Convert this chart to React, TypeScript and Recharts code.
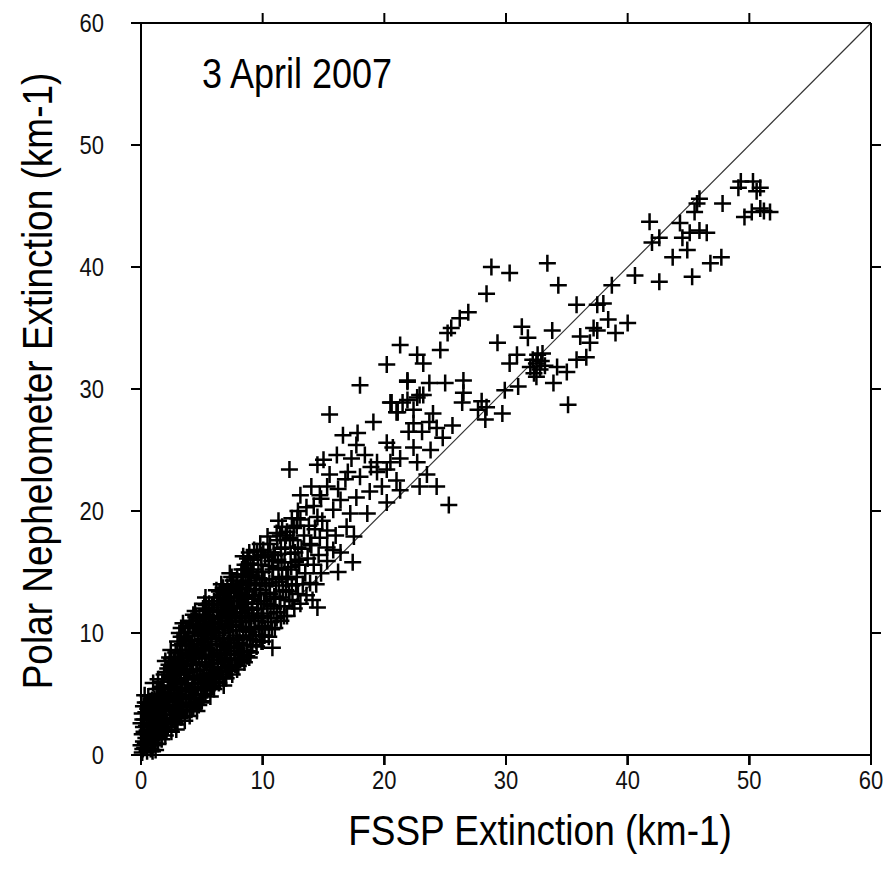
import React from 'react';
import { ScatterChart, Scatter, XAxis, YAxis, ReferenceLine, Label } from 'recharts';

// [FSSP extinction, Polar Nephelometer extinction] in km-1
const nearOrigin: number[][] = [
  [0.1, 0.2], [0.3, 0.6], [0.2, 1.1], [0.5, 0.3], [0.6, 0.9], [0.1, 1.7], [0.4, 1.4], [0.8, 0.5], [0.7, 1.6],
  [0.2, 2.3], [0.5, 2.0], [0.9, 1.2], [0.3, 2.9], [0.6, 2.6], [0.8, 2.1], [0.1, 3.4], [0.4, 3.5], [0.9, 2.9],
  [0.7, 3.3], [0.2, 4.0], [0.5, 4.3], [0.8, 3.9], [0.6, 4.8], [0.3, 4.9], [0.9, 4.5], [0.0, 0.8], [0.0, 2.6],
  [1.0, 0.8], [1.2, 1.4], [1.1, 2.1], [1.4, 0.9], [1.5, 1.8], [1.3, 2.7], [1.7, 1.3], [1.6, 2.4], [1.9, 1.9],
  [1.0, 3.2], [1.4, 3.4], [1.8, 2.9], [1.2, 3.9], [1.6, 4.1], [1.9, 3.6], [1.1, 4.6], [1.5, 4.8], [1.8, 4.4],
  [1.3, 5.4], [1.7, 5.6], [1.0, 5.9], [1.9, 5.1], [1.4, 6.2], [1.6, 3.0], [1.2, 0.4],
  [2.0, 1.6], [2.2, 2.3], [2.5, 1.9], [2.1, 3.0], [2.4, 3.3], [2.8, 2.6], [2.6, 3.9], [2.3, 4.4], [2.9, 3.5],
  [2.0, 5.0], [2.5, 4.9], [2.8, 4.4], [2.2, 5.7], [2.7, 5.6], [2.4, 6.3], [2.9, 6.0], [2.1, 6.8], [2.6, 6.9],
  [2.3, 7.4], [2.8, 7.2], [2.5, 7.9], [2.0, 7.7], [2.9, 2.1], [2.6, 2.9],
  [0.15, 0.5], [0.35, 1.0], [0.55, 1.7], [0.75, 2.4], [0.25, 1.9], [0.45, 2.4], [0.65, 3.0], [0.85, 3.5],
  [0.15, 2.9], [0.35, 4.3], [0.75, 4.2], [0.55, 3.8], [0.95, 0.3], [0.95, 2.0], [1.15, 1.0], [1.35, 1.8],
  [1.55, 2.9], [1.75, 3.3], [1.25, 3.0], [1.45, 4.1], [1.65, 4.6], [1.85, 5.5], [1.05, 4.2], [1.35, 5.0],
  [1.55, 5.4], [1.75, 6.0], [1.95, 2.5], [1.15, 2.6], [2.15, 2.6], [2.35, 3.8], [2.55, 3.0], [2.75, 3.9],
  [2.95, 4.8], [2.15, 4.6], [2.45, 5.4], [2.65, 6.2], [2.85, 6.6], [2.25, 6.2], [2.55, 7.2], [2.75, 8.0],
  [2.35, 8.0], [2.05, 4.1], [2.45, 8.6], [2.85, 8.4], [1.9, 6.6],
  [1.1, 1.6], [1.3, 4.4], [1.7, 2.2], [1.5, 3.7], [1.9, 4.7], [2.1, 2.0], [2.3, 5.1], [2.7, 3.3], [2.5, 6.5],
  [2.9, 5.3], [2.2, 7.1], [2.7, 7.6],
];

const lowRange: number[][] = [
  [3.0, 2.5], [3.3, 3.1], [3.6, 2.8], [3.1, 3.9], [3.5, 4.0], [3.8, 3.6], [3.2, 4.7], [3.7, 4.8], [3.4, 5.5],
  [3.9, 5.3], [3.0, 6.1], [3.6, 6.2], [3.3, 6.8], [3.8, 7.0], [3.1, 7.5], [3.5, 7.7], [3.9, 7.9], [3.2, 8.4],
  [3.7, 8.6], [3.4, 9.1], [3.9, 9.4], [3.0, 9.3], [3.6, 10.0], [3.3, 10.4],
  [4.0, 3.2], [4.3, 3.9], [4.6, 3.6], [4.1, 4.6], [4.5, 4.7], [4.9, 4.3], [4.2, 5.4], [4.7, 5.5], [4.4, 6.2],
  [4.9, 6.1], [4.0, 6.8], [4.6, 6.9], [4.3, 7.5], [4.8, 7.6], [4.1, 8.2], [4.5, 8.4], [4.9, 8.6], [4.2, 9.1],
  [4.7, 9.3], [4.4, 10.0], [4.9, 10.2], [4.0, 10.6], [4.6, 11.0], [4.3, 11.5], [4.8, 11.3],
  [5.0, 4.4], [5.3, 5.0], [5.7, 4.8], [5.1, 5.8], [5.5, 5.9], [5.9, 5.6], [5.2, 6.6], [5.7, 6.7], [5.4, 7.4],
  [5.9, 7.5], [5.0, 7.9], [5.6, 8.2], [5.3, 8.8], [5.8, 9.0], [5.1, 9.5], [5.5, 9.8], [5.9, 10.1], [5.2, 10.6],
  [5.7, 10.9], [5.4, 11.5], [5.9, 11.7], [5.1, 12.0], [5.6, 12.4], [5.3, 12.9],
  [3.15, 3.4], [3.45, 3.6], [3.75, 4.2], [3.05, 5.0], [3.35, 4.3], [3.65, 5.3], [3.95, 4.6], [3.25, 5.8],
  [3.55, 6.7], [3.85, 6.3], [3.15, 6.6], [3.45, 7.3], [3.75, 7.4], [3.05, 8.0], [3.35, 8.0], [3.65, 9.0],
  [3.95, 8.6], [3.25, 9.0], [3.55, 9.7], [3.85, 10.1], [3.15, 10.0], [3.45, 10.8],
  [4.15, 3.7], [4.45, 4.2], [4.75, 4.1], [4.05, 5.2], [4.35, 4.9], [4.65, 5.9], [4.95, 5.4], [4.25, 6.5],
  [4.55, 7.4], [4.85, 7.0], [4.15, 7.4], [4.45, 8.0], [4.75, 8.2], [4.05, 9.0], [4.35, 8.6], [4.65, 9.8],
  [4.95, 9.4], [4.25, 10.4], [4.55, 10.6], [4.85, 10.7], [4.15, 11.0], [4.45, 11.8],
  [5.15, 4.9], [5.45, 5.3], [5.75, 5.5], [5.05, 6.4], [5.35, 6.1], [5.65, 7.2], [5.95, 6.6], [5.25, 7.6],
  [5.55, 8.6], [5.85, 8.1], [5.15, 8.6], [5.45, 9.3], [5.75, 9.6], [5.05, 10.2], [5.35, 9.9], [5.65, 11.4],
  [5.95, 10.8], [5.25, 11.2], [5.55, 11.9], [5.85, 12.3], [5.35, 12.3],
  [3.2, 3.5], [3.4, 4.9], [3.8, 5.8], [3.1, 7.1], [3.6, 7.0], [3.9, 8.3], [3.3, 9.7], [3.7, 9.3], [4.1, 4.2],
  [4.4, 5.6], [4.8, 6.5], [4.2, 7.9], [4.6, 8.8], [4.9, 9.8], [4.3, 10.7], [4.7, 10.4], [4.5, 11.3],
  [5.2, 5.4], [5.6, 6.3], [5.9, 7.0], [5.3, 8.0], [5.7, 8.6], [5.2, 9.0], [5.8, 10.5], [5.4, 10.2], [5.6, 11.1],
  [5.2, 12.4],
];

const midRange: number[][] = [
  [6.0, 5.4], [6.4, 5.9], [6.8, 5.7], [6.1, 6.6], [6.6, 6.8], [6.3, 7.5], [6.9, 7.6], [6.0, 8.2], [6.5, 8.4],
  [6.2, 9.1], [6.8, 9.3], [6.4, 10.0], [6.9, 10.4], [6.1, 10.8], [6.6, 11.2], [6.3, 11.8], [6.8, 12.1],
  [6.0, 12.6], [6.5, 12.9], [6.2, 13.5], [6.9, 13.3], [6.6, 14.0],
  [7.0, 6.3], [7.5, 6.6], [7.9, 7.0], [7.2, 7.4], [7.7, 7.9], [7.4, 8.5], [7.9, 8.8], [7.1, 9.2], [7.6, 9.6],
  [7.3, 10.2], [7.8, 10.6], [7.0, 11.0], [7.5, 11.4], [7.2, 12.0], [7.9, 12.2], [7.4, 12.9], [7.7, 13.4],
  [7.1, 13.8], [7.6, 14.3], [7.3, 14.9], [7.9, 14.6],
  [8.0, 7.3], [8.5, 7.6], [8.9, 8.0], [8.2, 8.5], [8.7, 9.0], [8.4, 9.7], [8.9, 10.1], [8.1, 10.5], [8.6, 11.0],
  [8.3, 11.7], [8.8, 12.1], [8.0, 12.6], [8.5, 13.0], [8.2, 13.7], [8.9, 13.9], [8.6, 14.6], [8.3, 15.2],
  [8.8, 15.6], [8.4, 16.3], [8.9, 16.6],
  [9.0, 8.4], [9.5, 8.9], [9.9, 9.3], [9.2, 9.8], [9.7, 10.3], [9.4, 11.0], [9.9, 11.4], [9.1, 11.9], [9.6, 12.4],
  [9.3, 13.1], [9.8, 13.5], [9.0, 14.0], [9.5, 14.5], [9.2, 15.2], [9.9, 15.6], [9.6, 16.2], [9.3, 16.8],
  [9.8, 17.3], [9.0, 15.7],
  [6.15, 6.0], [6.45, 6.4], [6.75, 6.3], [6.05, 7.2], [6.35, 6.9], [6.65, 7.8], [6.95, 7.1], [6.25, 8.3],
  [6.55, 9.0], [6.85, 8.6], [6.15, 9.6], [6.45, 9.5], [6.75, 10.0], [6.05, 10.3], [6.35, 10.7], [6.65, 11.8],
  [6.95, 11.5], [6.25, 12.1], [6.55, 12.3], [6.85, 12.8], [6.45, 13.4], [6.75, 13.7],
  [7.15, 6.9], [7.45, 7.2], [7.75, 7.4], [7.05, 8.2], [7.35, 7.9], [7.65, 8.8], [7.95, 8.2], [7.25, 9.6],
  [7.55, 10.2], [7.85, 9.8], [7.15, 10.6], [7.45, 11.0], [7.75, 11.6], [7.05, 12.4], [7.35, 11.7], [7.65, 12.6],
  [7.95, 13.0], [7.25, 13.3], [7.55, 13.9], [7.85, 14.0], [7.45, 14.6],
  [8.15, 7.8], [8.45, 8.2], [8.75, 8.5], [8.05, 9.2], [8.35, 9.0], [8.65, 10.3], [8.95, 9.5], [8.25, 10.9],
  [8.55, 11.6], [8.85, 11.4], [8.15, 12.2], [8.45, 12.4], [8.75, 12.9], [8.05, 13.3], [8.35, 14.2], [8.65, 13.6],
  [8.95, 14.7], [8.25, 14.8], [8.55, 15.6], [8.75, 16.1],
  [9.15, 9.0], [9.45, 9.4], [9.75, 9.8], [9.05, 10.5], [9.35, 10.3], [9.65, 11.2], [9.95, 10.6], [9.25, 11.4],
  [9.55, 12.0], [9.85, 12.6], [9.15, 12.8], [9.45, 13.6], [9.75, 14.1], [9.05, 14.8], [9.35, 14.0], [9.65, 15.0],
  [9.95, 14.4], [9.25, 16.0], [9.55, 16.7], [9.85, 16.4],
  [6.2, 6.2], [6.6, 7.2], [6.3, 8.0], [6.9, 8.9], [6.2, 9.8], [6.7, 10.7], [6.4, 11.3], [6.9, 12.5], [6.3, 12.6],
  [6.7, 13.1], [7.3, 6.9], [7.7, 8.3], [7.2, 8.8], [7.9, 9.4], [7.4, 10.7], [7.8, 11.2], [7.2, 11.5], [7.6, 12.2],
  [7.9, 13.6], [7.4, 13.5], [8.3, 8.0], [8.7, 8.1], [8.4, 10.2], [8.9, 11.0], [8.2, 11.2], [8.6, 12.5],
  [8.3, 13.1], [8.8, 14.3], [8.4, 14.8], [8.7, 15.2],
];

const bandRange: number[][] = [
  [10.0, 9.3], [10.5, 9.7], [10.8, 8.8], [10.2, 10.4], [10.7, 10.9], [10.4, 11.6], [10.9, 12.0], [10.1, 12.6],
  [10.6, 13.2], [10.3, 13.9], [10.8, 14.4], [10.0, 15.0], [10.5, 15.5], [10.2, 16.2], [10.9, 16.6], [10.6, 17.3],
  [10.4, 17.9],
  [11.0, 10.4], [11.5, 11.0], [11.2, 11.7], [11.8, 12.2], [11.4, 12.9], [11.9, 13.5], [11.1, 13.9], [11.6, 14.6],
  [11.3, 15.3], [11.8, 15.8], [11.0, 16.4], [11.5, 16.9], [11.2, 17.6], [11.9, 18.0], [11.6, 18.7], [11.3, 19.2],
  [12.0, 11.4], [12.6, 12.0], [12.2, 12.7], [12.9, 13.2], [12.4, 13.9], [12.8, 14.6], [12.1, 15.2], [12.7, 15.8],
  [12.3, 16.5], [12.9, 17.0], [12.5, 17.6], [12.0, 18.3], [12.8, 18.8], [12.4, 19.4], [12.9, 20.0], [12.2, 23.4],
  [13.1, 12.4], [13.6, 13.1], [13.3, 14.0], [13.9, 14.1], [13.5, 14.9], [13.0, 15.6], [13.7, 16.1], [13.2, 16.9],
  [13.9, 17.3], [13.4, 18.0], [13.8, 18.8], [13.1, 19.3], [13.6, 20.3], [13.1, 21.3],
  [14.1, 12.7], [14.5, 12.1], [14.4, 14.0], [14.8, 14.9], [14.2, 15.6], [14.6, 16.4], [14.0, 17.2], [14.7, 17.8],
  [14.3, 18.5], [14.9, 19.2], [14.5, 19.5], [14.2, 20.4], [14.8, 21.0], [14.7, 21.3], [14.5, 23.8], [14.0, 22.0],
  [10.15, 9.8], [10.45, 10.9], [10.75, 10.3], [10.05, 11.4], [10.35, 12.4], [10.65, 12.2], [10.95, 13.0],
  [10.25, 13.3], [10.55, 14.1], [10.85, 15.2], [10.15, 14.4], [10.45, 16.6], [10.75, 15.9], [10.05, 16.8],
  [11.15, 11.2], [11.45, 12.2], [11.75, 11.4], [11.05, 12.8], [11.35, 14.2], [11.65, 13.4], [11.95, 14.6],
  [11.25, 16.0], [11.55, 15.8], [11.85, 17.0], [11.15, 18.2], [11.45, 18.0],
  [12.15, 13.4], [12.45, 12.6], [12.75, 14.0], [12.05, 14.4], [12.35, 15.4], [12.65, 16.6], [12.95, 16.0],
  [12.25, 17.8], [12.55, 18.6], [12.85, 19.4],
];

const upperRange: number[][] = [
  [15.3, 15.9], [15.8, 16.8], [15.3, 17.0], [16.4, 16.6], [15.3, 18.4], [16.0, 18.0], [16.9, 18.7], [15.8, 20.1],
  [16.4, 20.9], [17.2, 19.8], [15.3, 22.0], [15.5, 23.0], [16.1, 24.6], [15.0, 24.2], [16.6, 26.2], [17.3, 24.3],
  [17.4, 15.8], [17.7, 21.1], [17.7, 25.4], [17.8, 26.4], [15.5, 27.9], [16.8, 22.6], [17.0, 23.2], [16.2, 21.8],
  [17.5, 17.9], [16.2, 15.0],
  [18.0, 22.8], [18.8, 21.6], [18.6, 19.8], [19.4, 23.2], [19.4, 24.0], [20.2, 23.4], [20.2, 20.7], [20.2, 25.6],
  [20.7, 25.2], [18.4, 24.6], [19.1, 27.3], [18.0, 30.3], [20.6, 28.9], [21.0, 28.1], [21.0, 22.5], [19.8, 22.0],
  [18.9, 23.6], [20.5, 24.0],
  [21.3, 21.7], [21.3, 24.3], [21.9, 29.1], [21.9, 30.6], [22.4, 25.2], [22.4, 27.2], [22.7, 24.0], [22.7, 29.3],
  [22.9, 22.0], [23.1, 26.5], [23.2, 29.5], [23.5, 23.0], [23.7, 27.3], [24.3, 26.8], [24.3, 22.0], [23.7, 30.5],
  [25.0, 30.5], [25.3, 20.5], [24.6, 33.2], [25.2, 34.6], [25.5, 35.0], [26.2, 35.8], [26.9, 36.3], [21.3, 33.6],
  [22.7, 32.8], [23.2, 32.1], [20.2, 32.0], [21.9, 30.7], [26.5, 30.7], [26.5, 29.7], [26.4, 28.9], [22.9, 29.5],
  [20.5, 28.9], [21.5, 28.9], [21.1, 28.1], [22.4, 28.3], [24.8, 26.0], [25.6, 27.0], [24.0, 28.0], [22.0, 26.5],
  [23.8, 25.0],
];

const highRange: number[][] = [
  [28.8, 40.0], [30.3, 39.5], [33.4, 40.3], [34.3, 38.5], [28.4, 37.8], [35.8, 36.9], [31.3, 35.1], [31.8, 34.2],
  [33.8, 34.8], [29.3, 33.8], [30.9, 32.8], [30.3, 32.1], [32.5, 32.1], [33.0, 32.9], [32.8, 31.6], [34.2, 31.8],
  [35.0, 31.4], [35.8, 32.4], [36.6, 32.6], [36.9, 33.8], [36.1, 34.3], [37.5, 34.8], [33.9, 30.5], [32.5, 31.0],
  [31.0, 30.2], [29.9, 29.9], [28.4, 28.5], [29.7, 28.0], [35.1, 28.7], [32.2, 32.4], [32.6, 32.8], [32.0, 31.8],
  [32.9, 32.3], [32.3, 31.3], [33.2, 31.9], [27.7, 28.3], [28.3, 27.5], [28.0, 29.0],
  [37.5, 36.9], [38.0, 37.0], [38.7, 38.5], [38.4, 35.7], [40.0, 35.4], [40.6, 39.3], [42.6, 38.8], [41.8, 43.7],
  [42.6, 42.4], [42.0, 42.0], [44.3, 43.6], [44.5, 42.4], [45.1, 42.8], [45.9, 43.0], [46.5, 42.8], [44.9, 41.4],
  [43.7, 40.8], [46.8, 40.3], [47.7, 40.8], [45.3, 39.2], [45.9, 45.6], [45.7, 45.2], [45.5, 44.5], [49.3, 47.0],
  [50.3, 47.0], [49.1, 46.5], [50.9, 46.5], [47.8, 45.2], [50.2, 44.5], [50.9, 44.8], [51.7, 44.5], [49.6, 44.1],
  [50.6, 46.2], [51.2, 44.6], [37.2, 35.0], [39.0, 34.6],
];

const axisTicks = [0, 10, 20, 30, 40, 50, 60];
const frameTicks = [10, 20, 30, 40, 50];
const oneToOne = [{ x: 0, y: 0 }, { x: 60, y: 60 }];

const points = [...nearOrigin, ...lowRange, ...midRange, ...bandRange, ...upperRange, ...highRange].map(([x, y]) => ({ x, y }));

// tick positions on the four sides of the frame
const bottomTickPts = axisTicks.map((v) => ({ x: v, y: 0 }));
const leftTickPts = axisTicks.map((v) => ({ x: 0, y: v }));
const topTickPts = frameTicks.map((v) => ({ x: v, y: 60 }));
const rightTickPts = frameTicks.map((v) => ({ x: 60, y: v }));

const FONT = 'Liberation Sans, Arial, sans-serif';
const TL = 10;

const Plus = (props: any) => {
  const { cx, cy } = props;
  return <path d={`M${cx - 8.5},${cy}h17M${cx},${cy - 8.5}v17`} stroke="#000" strokeWidth={2.5} fill="none" />;
};

const tickShape = (dx: number, dy: number) => (props: any) => {
  const { cx, cy } = props;
  return <path d={`M${cx},${cy}l${dx},${dy}`} stroke="#000" strokeWidth={2} fill="none" />;
};
const DownTick = tickShape(0, TL);
const UpTick = tickShape(0, -TL);
const LeftMark = tickShape(-TL, 0);
const RightMark = tickShape(TL, 0);

// label components also draw the outward tick mark next to the label
const BottomTick = (props: any) => {
  const { x, y, payload } = props;
  return (
    <g>
      <path d={`M${x},${y - TL}v${TL}`} stroke="#000" strokeWidth={2} fill="none" />
      <text transform={`translate(${x},${y + 24}) scale(1,1.15)`} textAnchor="middle" fontSize={22} fontFamily={FONT} fill="#111" stroke="none">
        {payload.value}
      </text>
    </g>
  );
};

const LeftTick = (props: any) => {
  const { x, y, payload } = props;
  return (
    <g>
      <path d={`M${x},${y}h${TL}`} stroke="#000" strokeWidth={2} fill="none" />
      <text transform={`translate(${x - 27},${y + 9}) scale(1,1.15)`} textAnchor="end" fontSize={22} fontFamily={FONT} fill="#111" stroke="none">
        {payload.value}
      </text>
    </g>
  );
};

const NoLabel = () => <g />;

const XTitle = (props: any) => {
  const { x, y, width } = props.viewBox;
  return (
    <text transform={`translate(${x + width / 2 + 34},${y + 90}) scale(1,1.15)`} textAnchor="middle" fontSize={37} fontFamily={FONT} fill="#000">
      FSSP Extinction (km-1)
    </text>
  );
};

const YTitle = (props: any) => {
  const { y, height } = props.viewBox;
  return (
    <text transform={`translate(52,${y + height / 2 - 8}) rotate(-90) scale(1,1.15)`} textAnchor="middle" fontSize={37} fontFamily={FONT} fill="#000">
      Polar Nephelometer Extinction (km-1)
    </text>
  );
};

const DateTitle = (props: any) => {
  const { x } = props.viewBox;
  return (
    <text transform={`translate(${x + 61},88) scale(1,1.2)`} textAnchor="start" fontSize={36} fontFamily={FONT} fill="#000">
      3 April 2007
    </text>
  );
};

const App: React.FC = () => (
  <div style={{ position: 'absolute', left: 0, top: 0, width: 892, height: 881 }}>
    <ScatterChart width={892} height={881} margin={{ top: 0, right: 0, bottom: 0, left: 0 }}>
      <XAxis
        xAxisId="bottom"
        dataKey="x"
        type="number"
        domain={[0, 60]}
        ticks={axisTicks}
        orientation="bottom"
        height={126}
        tickSize={TL}
        tickMargin={0}
        stroke="#000"
        strokeWidth={2}
        tick={<BottomTick />}
      >
        <Label content={<XTitle />} />
      </XAxis>
      <XAxis
        xAxisId="top"
        dataKey="x"
        type="number"
        domain={[0, 60]}
        ticks={frameTicks}
        orientation="top"
        height={23}
        stroke="#000"
        strokeWidth={2}
        tickLine={false}
        tick={<NoLabel />}
      >
        <Label content={<DateTitle />} />
      </XAxis>
      <YAxis
        yAxisId="left"
        dataKey="y"
        type="number"
        domain={[0, 60]}
        ticks={axisTicks}
        orientation="left"
        width={141}
        tickSize={TL}
        tickMargin={0}
        stroke="#000"
        strokeWidth={2}
        tick={<LeftTick />}
      >
        <Label content={<YTitle />} />
      </YAxis>
      <YAxis
        yAxisId="right"
        dataKey="y"
        type="number"
        domain={[0, 60]}
        ticks={frameTicks}
        orientation="right"
        width={21}
        stroke="#000"
        strokeWidth={2}
        tickLine={false}
        tick={<NoLabel />}
      />
      <ReferenceLine
        xAxisId="bottom"
        yAxisId="left"
        segment={oneToOne}
        stroke="#333"
        strokeWidth={1.2}
        ifOverflow="visible"
      />
      <Scatter xAxisId="top" yAxisId="right" data={[]} isAnimationActive={false} />
      <Scatter xAxisId="top" yAxisId="right" data={bottomTickPts} shape={DownTick} isAnimationActive={false} />
      <Scatter xAxisId="top" yAxisId="right" data={leftTickPts} shape={LeftMark} isAnimationActive={false} />
      <Scatter xAxisId="bottom" yAxisId="left" data={topTickPts} shape={UpTick} isAnimationActive={false} />
      <Scatter xAxisId="bottom" yAxisId="left" data={rightTickPts} shape={RightMark} isAnimationActive={false} />
      <Scatter
        xAxisId="bottom"
        yAxisId="left"
        data={points}
        shape={<Plus />}
        isAnimationActive={false}
      />
    </ScatterChart>
  </div>
);

export default App;
